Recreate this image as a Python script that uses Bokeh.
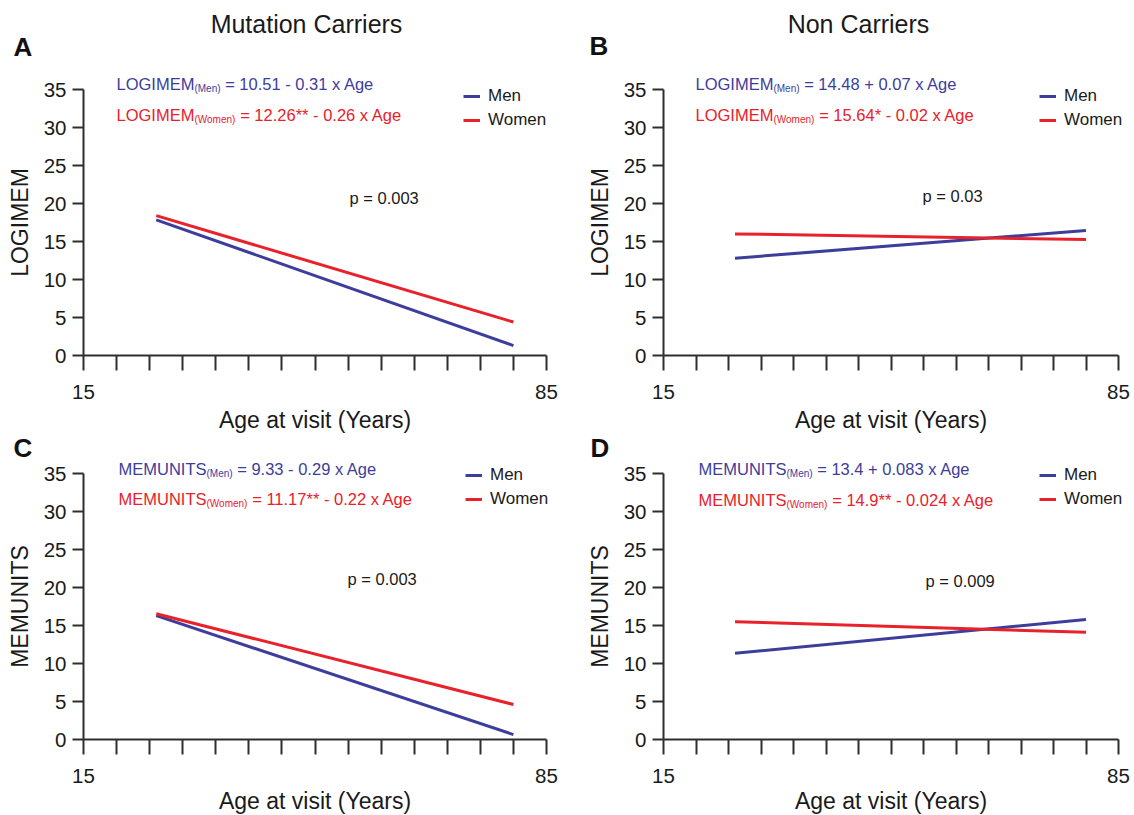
from bokeh.plotting import figure
from bokeh.models import Range1d, FixedTicker, Label, Legend, LegendItem
from bokeh.layouts import column, row
from bokeh.embed import file_html
from bokeh.resources import INLINE

# ---------------- data ----------------
ages = [26, 80]
a_men = [17.85, 1.3]
a_women = [18.4, 4.4]
b_men = [12.8, 16.45]
b_women = [16.0, 15.25]
c_men = [16.3, 0.65]
c_women = [16.55, 4.6]
d_men = [11.35, 15.8]
d_women = [15.5, 14.1]

x_ticks = [15, 20, 25, 30, 35, 40, 45, 50, 55, 60, 65, 70, 75, 80, 85]
x_shown = ["15", "85"]
y_ticks = [0, 5, 10, 15, 20, 25, 30, 35]

titles = ["Mutation Carriers", "Non Carriers"]
letters = ["A", "B", "C", "D"]
ylabels = ["LOGIMEM", "LOGIMEM", "MEMUNITS", "MEMUNITS"]
eq_names = ["LOGIMEM", "LOGIMEM", "MEMUNITS", "MEMUNITS"]
eq_men = ["= 10.51 - 0.31 x Age", "= 14.48 + 0.07 x Age",
          "= 9.33 - 0.29 x Age", "= 13.4 + 0.083 x Age"]
eq_women = ["= 12.26** - 0.26 x Age", "= 15.64* - 0.02 x Age",
            "= 11.17** - 0.22 x Age", "= 14.9** - 0.024 x Age"]
pvals = ["p = 0.003", "p = 0.03", "p = 0.003", "p = 0.009"]
series = [(a_men, a_women), (b_men, b_women), (c_men, c_women), (d_men, d_women)]

# ---------------- style ----------------
FONT = "Liberation Sans"
BLUE = "#3d3d9c"
RED = "#e8212b"
INK = "#1a1a1a"
AXIS = "#2e2e2e"

# Arial / Liberation Sans advance widths (per 1000 em)
W = {' ': 278, '(': 333, ')': 333, '*': 389, '+': 584, '-': 333, '.': 278, '=': 584,
     'A': 667, 'C': 722, 'E': 667, 'G': 778, 'I': 278, 'L': 556, 'M': 833, 'N': 722,
     'O': 778, 'S': 667, 'T': 611, 'U': 722, 'W': 944, 'Y': 667,
     'a': 556, 'e': 556, 'g': 556, 'i': 222, 'm': 833, 'n': 556, 'o': 556, 'r': 333,
     's': 500, 't': 278, 'x': 500, 'p': 556, 'u': 556, 'v': 500}


def tw(s, size):
    return sum(W.get(c, 556) for c in s) * size / 1000.0


# page geometry (page pixels):
# (origin_x, origin_y, fig_w, fig_h, x15_px, x85_px, y35_px, y0_px, title_standoff)
geo = [
    (0, 0, 578, 434, 83, 546, 89, 355, 5),
    (578, 0, 556, 434, 663, 1118, 89, 355, 5),
    (0, 434, 578, 380, 83, 546, 473, 739, 2),
    (578, 434, 556, 380, 663, 1118, 473, 739, 2),
]
# text positions in page pixels
letter_pos = [(13, 46), (589, 45), (13, 447), (590, 447)]
title_pos = [(306, 23), (858, 23)]
eq_pos = [(116, 83, 114), (695, 83, 114), (118, 468, 498), (698, 468, 499)]
p_pos = [(349, 197), (922, 195), (347, 578), (925, 580)]
leg_pos = [(464, 86), (1040, 86), (466, 465), (1040, 465)]


def make_panel(i):
    ox, oy, fw, fh, x15, x85, y35, y0, tstand = geo[i]
    kx = (x85 - x15) / 70.0
    ky = (y0 - y35) / 35.0
    x_start = 15 - (x15 - ox) / kx
    x_end = x_start + fw / kx
    y_end = (y0 - oy) / ky
    y_start = -(oy + fh - y0) / ky

    def dx(px):
        return x_start + (px - ox) / kx

    def dy(py):
        return (y0 - py) / ky

    p = figure(width=fw, height=fh, x_range=Range1d(x_start, x_end),
               y_range=Range1d(y_start, y_end),
               output_backend="svg", toolbar_location=None,
               min_border_left=0, min_border_right=0, min_border_top=0,
               min_border_bottom=0)
    p.outline_line_color = None
    p.xgrid.visible = False
    p.ygrid.visible = False
    p.background_fill_color = "white"
    p.border_fill_color = "white"

    # axes
    xa = p.xaxis[0]
    xa.ticker = FixedTicker(ticks=x_ticks)
    xa.bounds = (15, 85)
    xa.fixed_location = 0
    xa.major_label_overrides = {t: (str(t) if str(t) in x_shown else "") for t in x_ticks}
    xa.axis_label = "Age at visit (Years)"
    ya = p.yaxis[0]
    ya.ticker = FixedTicker(ticks=y_ticks)
    ya.bounds = (0, 35)
    ya.fixed_location = 15
    ya.axis_label = ylabels[i]
    for ax in (xa, ya):
        ax.axis_line_color = AXIS
        ax.axis_line_width = 2
        ax.major_tick_line_color = AXIS
        ax.major_tick_line_width = 2
        ax.major_tick_in = 0
        ax.minor_tick_line_color = None
        ax.major_label_text_font = FONT
        ax.major_label_text_font_size = "20.5px"
        ax.major_label_text_color = INK
        ax.axis_label_text_font = FONT
        ax.axis_label_text_font_size = "23px"
        ax.axis_label_text_font_style = "normal"
        ax.axis_label_text_color = INK
    xa.major_tick_out = 15
    xa.major_label_standoff = 14
    xa.axis_label_standoff = tstand
    ya.major_tick_out = 11
    ya.major_label_standoff = 6
    ya.axis_label_standoff = 8

    men, women = series[i]
    r_m = p.line(ages, men, line_color=BLUE, line_width=3)
    r_w = p.line(ages, women, line_color=RED, line_width=3)

    # legend
    lx, ly = leg_pos[i]
    vx = lx - ox - 1
    vy = (oy + fh) - (ly + 44)
    leg = Legend(items=[LegendItem(label="Men", renderers=[r_m]),
                        LegendItem(label="Women", renderers=[r_w])],
                 location=(vx, vy), padding=0, margin=0, spacing=4,
                 glyph_width=17, glyph_height=20, label_height=20, label_standoff=8,
                 label_text_font=FONT, label_text_font_size="17px",
                 label_text_color=INK, background_fill_alpha=0, border_line_alpha=0)
    p.add_layout(leg)

    # panel letter
    lx, ly = letter_pos[i]
    p.add_layout(Label(x=dx(lx), y=dy(ly), text=letters[i], text_font=FONT,
                       text_font_size="26px", text_font_style="bold", text_color="#111111",
                       text_align="left", text_baseline="middle"))
    # column title
    if i < 2:
        tx, ty = title_pos[i]
        p.add_layout(Label(x=dx(tx), y=dy(ty), text=titles[i], text_font=FONT,
                           text_font_size="25px", text_color=INK,
                           text_align="center", text_baseline="middle"))
    # equations with subscripts
    ex, ey_m, ey_w = eq_pos[i]
    S, SS = 16.5, 10
    for ey, sub, rest, col in ((ey_m, "(Men)", eq_men[i], BLUE),
                               (ey_w, "(Women)", eq_women[i], RED)):
        name = eq_names[i]
        x1 = ex + tw(name, S)
        x2 = x1 + tw(sub, SS) + tw(" ", S)
        p.add_layout(Label(x=dx(ex), y=dy(ey), text=name, text_font=FONT,
                           text_font_size=f"{S}px", text_color=col,
                           text_align="left", text_baseline="middle"))
        p.add_layout(Label(x=dx(x1), y=dy(ey + 5), text=sub, text_font=FONT,
                           text_font_size=f"{SS}px", text_color=col,
                           text_align="left", text_baseline="middle"))
        p.add_layout(Label(x=dx(x2), y=dy(ey), text=rest, text_font=FONT,
                           text_font_size=f"{S}px", text_color=col,
                           text_align="left", text_baseline="middle"))
    # p value
    px_, py_ = p_pos[i]
    p.add_layout(Label(x=dx(px_), y=dy(py_), text=pvals[i], text_font=FONT,
                       text_font_size="16.5px", text_color=INK,
                       text_align="left", text_baseline="middle"))
    return p


panels = [make_panel(i) for i in range(4)]
layout = column(row(panels[0], panels[1]), row(panels[2], panels[3]))

open("out.html", "w").write(file_html(layout, INLINE))
